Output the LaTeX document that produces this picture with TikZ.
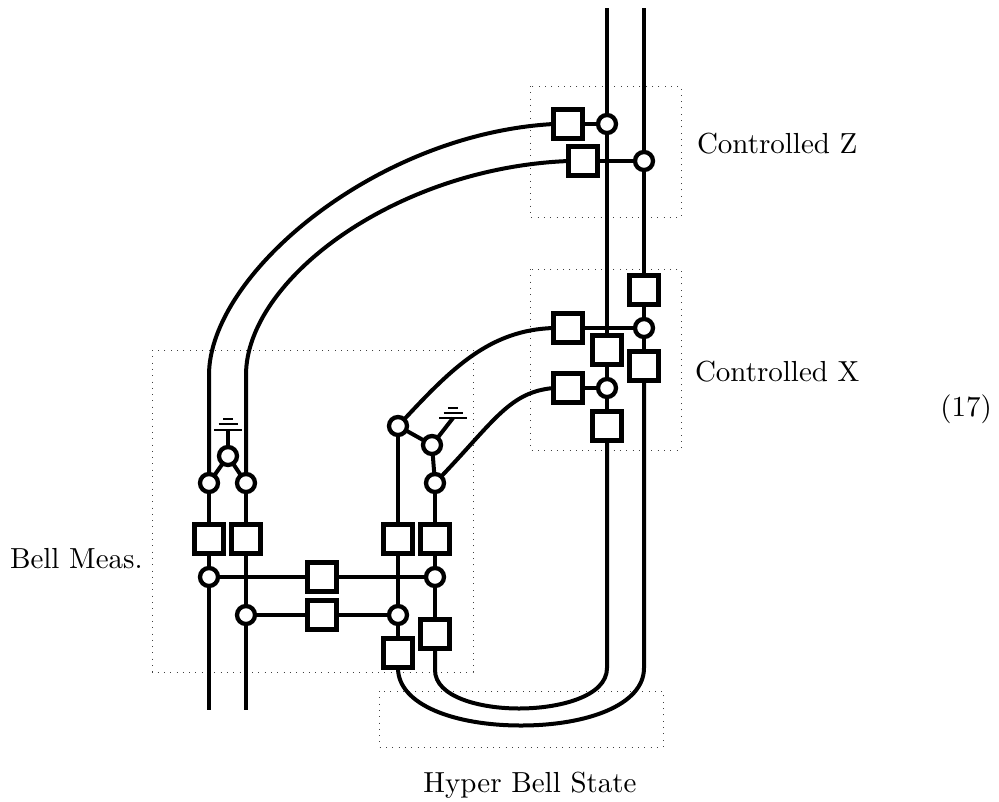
\documentclass[tikz,border=0pt]{standalone}
\begin{document}
\begin{tikzpicture}[x=1pt,y=-1pt,
  wire/.style={line width=4pt},
  sq/.style={draw,fill=white,line width=4.3pt,minimum size=29pt,inner sep=0pt,outer sep=0pt,shape=rectangle},
  ci/.style={draw,fill=white,line width=4.3pt,minimum size=18pt,inner sep=0pt,outer sep=0pt,shape=circle},
  gnd/.style={line width=2pt},
  gndshort/.style={line width=2.4pt},
  dotbox/.style={black!75,line width=1pt,dash pattern=on 1pt off 5.3pt},
  lab/.style={scale=2.9,inner sep=0pt,outer sep=0pt}]
\useasboundingbox (0,0) rectangle (999,801);
% dotted regions
\draw[dotbox] (530,86) rectangle (681,217);
\draw[dotbox] (530,269) rectangle (681,450);
\draw[dotbox] (152,350) rectangle (473,672);
\draw[dotbox] (379,691) rectangle (663,747);
% free ends
\coordinate (topA) at (607,8);
\coordinate (topB) at (644,8);
\coordinate (botA) at (209,710);
\coordinate (botB) at (246,710);
\coordinate (bendA) at (209,375);
\coordinate (bendB) at (246,375);
\coordinate (g1) at (228,429.5);
\coordinate (g2) at (453,418);
\coordinate (low1) at (521,725.5);
\coordinate (low2) at (519,708.5);
% nodes
\node[sq] (s1) at (209,539) {};
\node[sq] (s2) at (246,539) {};
\node[sq] (s3) at (398,539) {};
\node[sq] (s4) at (435,539) {};
\node[sq] (s5) at (322,577) {};
\node[sq] (s6) at (322,615) {};
\node[sq] (s7) at (398,653) {};
\node[sq] (s8) at (435,634) {};
\node[ci] (c1) at (209,483) {};
\node[ci] (c2) at (246,483) {};
\node[ci] (c3) at (228,456) {};
\node[ci] (c4) at (209,577) {};
\node[ci] (c5) at (435,577) {};
\node[ci] (c6) at (246,615) {};
\node[ci] (c7) at (398,615) {};
\node[ci] (c8) at (398,426) {};
\node[ci] (c9) at (432,445) {};
\node[ci] (c10) at (435,483) {};
\node[sq] (r1) at (568,124) {};
\node[ci] (r2) at (607,124) {};
\node[sq] (r3) at (583,161) {};
\node[ci] (r4) at (644,161) {};
\node[sq] (r5) at (644,290) {};
\node[ci] (r6) at (644,328) {};
\node[sq] (r7) at (568,328) {};
\node[sq] (r8) at (607,350) {};
\node[sq] (r9) at (644,366) {};
\node[sq] (r10) at (568,388) {};
\node[ci] (r11) at (607,388) {};
\node[sq] (r12) at (607,426) {};
% connectors
\begin{scope}[wire]
\draw (topA) -- (r2);
\draw (topB) -- (r4);
\draw (r2) -- (r8);
\draw (r8) -- (r11);
\draw (r11) -- (r12);
\draw (r4) -- (r5);
\draw (r5) -- (r6);
\draw (r6) -- (r9);
\draw (r1) -- (r2);
\draw (r3) -- (r4);
\draw (r7) -- (r6);
\draw (r10) -- (r11);
\draw (r1.west) .. controls (375,134) and (209,275) .. (bendA) -- (c1);
\draw (r3.west) .. controls (395,168) and (246,280) .. (bendB) -- (c2);
\draw (r7.west) .. controls (490,330) and (452,368) .. (c8);
\draw (r10.west) .. controls (510,392) and (495,420) .. (c10);
\draw (c8) -- (c9);
\draw (c9) -- (c10);
\draw (c1) -- (c3);
\draw (c2) -- (c3);
\draw (c1) -- (s1);
\draw (c2) -- (s2);
\draw (s1) -- (c4);
\draw (c4) -- (botA);
\draw (s2) -- (c6);
\draw (c6) -- (botB);
\draw (c8) -- (s3);
\draw (c10) -- (s4);
\draw (s3) -- (c7);
\draw (c7) -- (s7);
\draw (s4) -- (c5);
\draw (c5) -- (s8);
\draw (c4) -- (s5);
\draw (s5) -- (c5);
\draw (c6) -- (s6);
\draw (s6) -- (c7);
\draw (c3) -- (g1);
\draw (c9) -- (g2);
\draw (s7.south) -- (398,668) .. controls (398,705) and (455,725.5) .. (low1) .. controls (587,725.5) and (644,705) .. (644,668) -- (r9.south);
\draw (s8.south) -- (435,670) .. controls (435,697) and (480,708.5) .. (low2) .. controls (558,708.5) and (607,697) .. (607,668) -- (r12.south);
\end{scope}
% ground symbols
\draw[gnd] (214,429.5) -- (242,429.5);
\draw[gnd] (218.5,424) -- (237.5,424);
\draw[gndshort] (223,419) -- (233,419);
\draw[gnd] (439,418) -- (467,418);
\draw[gnd] (443.5,413) -- (462.5,413);
\draw[gndshort] (448,408) -- (457.5,408);
% labels
\node[lab,anchor=base west] (t1) at (697,153) {Controlled Z};
\node[lab,anchor=base west] (t2) at (695,381) {Controlled X};
\node[lab,anchor=base west] (t3) at (10,568) {Bell Meas.};
\node[lab,anchor=base] (t4) at (530,792) {Hyper Bell State};
\node[lab,anchor=base east] (t5) at (992,416) {(17)};
\end{tikzpicture}
\end{document}
